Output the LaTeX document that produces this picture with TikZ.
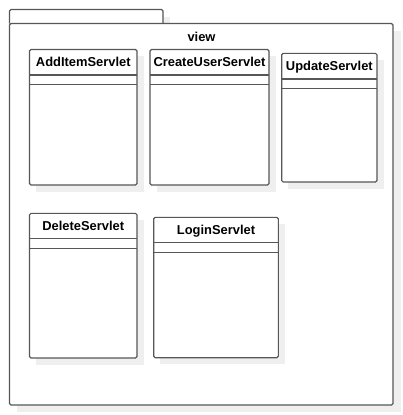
\documentclass[tikz,border=0pt]{standalone}
\usepackage{fontspec}
\setmainfont{Liberation Sans}
\tikzset{
  boxline/.style={draw=linec, line width=1.1pt},
  shadowfill/.style={fill=shadowc},
  classtitle/.style={font=\fontsize{12.9}{14}\selectfont\bfseries, inner sep=0pt, text=black},
}
\definecolor{linec}{HTML}{575757}
\definecolor{shadowc}{HTML}{EFEFEF}
\newcommand\umlcls[7]{%
  \fill[shadowfill] (#2+6.5,#3+6.5) rectangle (#4+6.5,#5+6.5);
  \draw[boxline, fill=white, rounded corners=1.5pt] (#2,#3) rectangle (#4,#5);
  \draw[boxline] (#2,#3+#6) -- (#4,#3+#6);
  \draw[boxline] (#2,#3+#6+9.7) -- (#4,#3+#6+9.7);
  \node[classtitle, anchor=base] (#1) at ({(#2+#4)/2},{#3+#6/2+4.4}) {#7};
}
\begin{document}
\begin{tikzpicture}[x=1pt,y=-1pt]
\useasboundingbox (0,0) rectangle (403,415);
% package shadow
\fill[shadowfill] (16.5,16.5) rectangle (170,30.5);
\fill[shadowfill] (16.5,30.5) rectangle (401,412);
% package tab and body
\draw[boxline, fill=white, rounded corners=1.5pt] (9.5,23.5) -- (9.5,9.5) -- (163,9.5) -- (163,23.5);
\draw[boxline, fill=white, rounded corners=1.5pt] (9.5,23.5) rectangle (393,405);
\node[classtitle, anchor=base] (view) at (201.5,41.7) {view};
% classes
\umlcls{additem}{29.5}{49.5}{137}{185}{25.5}{AddItemServlet}
\umlcls{createuser}{150}{49.5}{269}{185}{25.5}{CreateUserServlet}
\umlcls{update}{281.7}{53.3}{377}{182}{25.7}{UpdateServlet}
\umlcls{delete}{29.5}{213.3}{137}{358}{25.4}{DeleteServlet}
\umlcls{login}{153.7}{217.3}{278.3}{357.7}{25.4}{LoginServlet}
\end{tikzpicture}
\end{document}
